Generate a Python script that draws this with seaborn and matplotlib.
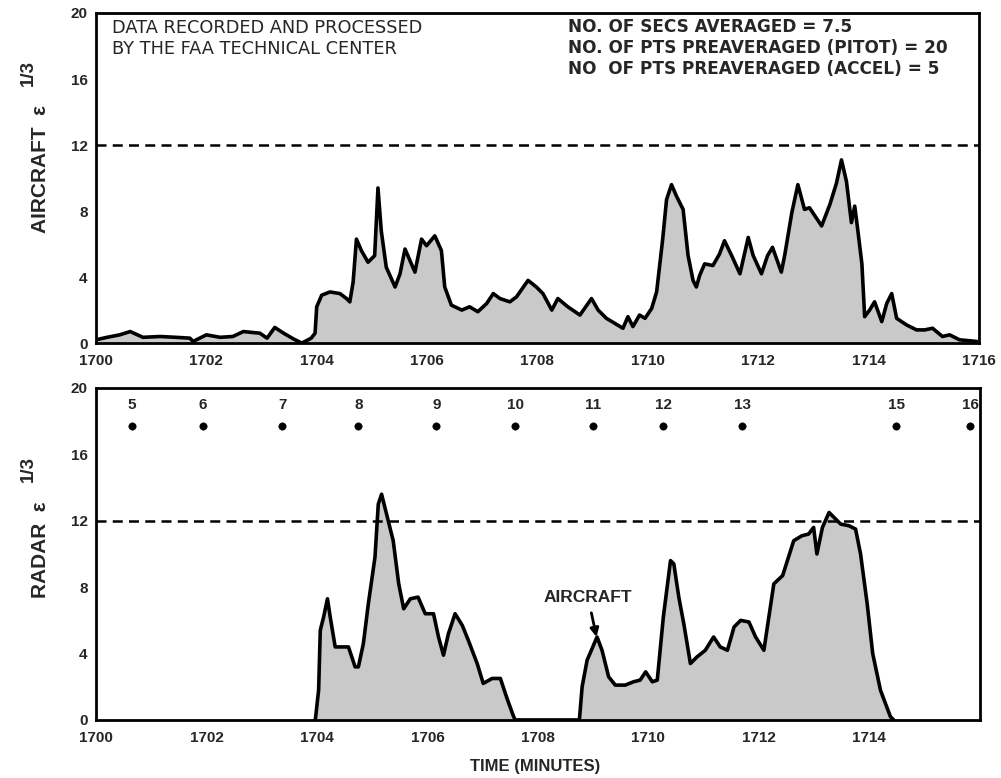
import matplotlib
matplotlib.use("Agg")
import matplotlib.pyplot as plt
import seaborn as sns
import numpy as np

# Aircraft eps^1/3, minutes after 1700
t_aircraft = [0.0, 0.2, 0.43, 0.62, 0.85, 1.16, 1.45, 1.7, 1.76, 2.0, 2.25, 2.48, 2.67, 2.97,
              3.1, 3.24, 3.4, 3.58, 3.73, 3.9, 3.97, 4.0, 4.09, 4.24, 4.42, 4.54, 4.6, 4.66,
              4.72, 4.81, 4.93, 5.05, 5.11, 5.17, 5.26, 5.42, 5.51, 5.6, 5.69, 5.78, 5.9,
              5.99, 6.14, 6.26, 6.32, 6.44, 6.63, 6.77, 6.92, 7.08, 7.2, 7.32, 7.5, 7.62,
              7.83, 7.98, 8.1, 8.26, 8.37, 8.55, 8.77, 8.98, 9.1, 9.25, 9.4, 9.55, 9.64,
              9.73, 9.85, 9.95, 10.07, 10.16, 10.27, 10.34, 10.43, 10.52, 10.64, 10.73,
              10.82, 10.88, 10.94, 11.03, 11.18, 11.3, 11.39, 11.52, 11.67, 11.82, 11.91,
              12.06, 12.17, 12.26, 12.42, 12.48, 12.61, 12.72, 12.84, 12.93, 13.15, 13.3,
              13.42, 13.51, 13.6, 13.69, 13.75, 13.8, 13.88, 13.93, 14.02, 14.11, 14.24,
              14.33, 14.42, 14.51, 14.69, 14.87, 15.02, 15.16, 15.34, 15.47, 15.65, 15.96]
eps_aircraft = [0.2, 0.35, 0.5, 0.7, 0.35, 0.4, 0.35, 0.3, 0.1, 0.5, 0.35, 0.4, 0.7, 0.6,
                0.3, 0.95, 0.6, 0.25, 0.0, 0.3, 0.6, 2.2, 2.9, 3.1, 3.0, 2.7, 2.5, 3.7,
                6.3, 5.6, 4.9, 5.3, 9.4, 6.8, 4.6, 3.4, 4.2, 5.7, 5.0, 4.3, 6.3,
                5.9, 6.5, 5.6, 3.4, 2.3, 2.0, 2.2, 1.9, 2.4, 3.0, 2.7, 2.5, 2.8,
                3.8, 3.4, 3.0, 2.0, 2.7, 2.2, 1.7, 2.7, 2.0, 1.5, 1.2, 0.9, 1.6,
                1.0, 1.7, 1.5, 2.1, 3.1, 6.3, 8.7, 9.6, 8.9, 8.1, 5.3,
                3.8, 3.4, 4.1, 4.8, 4.7, 5.4, 6.2, 5.3, 4.2, 6.4, 5.3,
                4.2, 5.3, 5.8, 4.3, 5.3, 7.9, 9.6, 8.1, 8.2, 7.1, 8.4,
                9.7, 11.1, 9.8, 7.3, 8.3, 7.0, 4.8, 1.6, 2.0, 2.5, 1.3,
                2.4, 3.0, 1.5, 1.1, 0.8, 0.8, 0.9, 0.4, 0.5, 0.2, 0.1]

# Radar eps^1/3
t_radar = [3.97, 4.03, 4.06, 4.12, 4.19, 4.24, 4.33, 4.48, 4.57, 4.69, 4.75, 4.84, 4.93,
           5.05, 5.11, 5.17, 5.26, 5.38, 5.48, 5.57, 5.69, 5.83, 5.96, 6.11, 6.2, 6.29,
           6.38, 6.5, 6.63, 6.74, 6.9, 7.01, 7.17, 7.32, 7.44, 7.56, 7.59, 8.75, 8.8,
           8.89, 9.07, 9.16, 9.28, 9.4, 9.58, 9.73, 9.85, 9.95, 10.07, 10.16, 10.27,
           10.4, 10.46, 10.55, 10.64, 10.76, 10.88, 11.03, 11.18, 11.3, 11.43, 11.55,
           11.67, 11.82, 11.94, 12.09, 12.18, 12.27, 12.43, 12.63, 12.78, 12.9, 12.99,
           13.05, 13.15, 13.27, 13.36, 13.48, 13.63, 13.75, 13.84, 13.96, 14.06, 14.2,
           14.38, 14.44]
eps_radar = [0.0, 1.8, 5.4, 6.2, 7.3, 6.2, 4.4, 4.4, 4.4, 3.2, 3.2, 4.6, 7.0,
             9.8, 13.0, 13.6, 12.4, 10.8, 8.2, 6.7, 7.3, 7.4, 6.4, 6.4, 5.0, 3.9,
             5.2, 6.4, 5.7, 4.8, 3.4, 2.2, 2.5, 2.5, 1.3, 0.2, 0.0, 0.0, 2.0,
             3.6, 5.0, 4.2, 2.6, 2.1, 2.1, 2.3, 2.4, 2.9, 2.3, 2.4, 6.2,
             9.6, 9.4, 7.4, 5.8, 3.4, 3.8, 4.2, 5.0, 4.4, 4.2, 5.6,
             6.0, 5.9, 5.0, 4.2, 6.2, 8.2, 8.7, 10.8, 11.1, 11.2, 11.6,
             10.0, 11.6, 12.5, 12.2, 11.8, 11.7, 11.5, 10.0, 7.0, 4.0, 1.8,
             0.2, 0.0]

# numbered scan markers on radar panel
scan_t = [0.65, 1.94, 3.37, 4.75, 6.16, 7.59, 9.0, 10.27, 11.7, 14.49, 15.83]
scan_labels = ["5", "6", "7", "8", "9", "10", "11", "12", "13", "15", "16"]
scan_level = 17.7

threshold = 12
yticks = [0, 4, 8, 12, 16, 20]
xticks_top = [1700, 1702, 1704, 1706, 1708, 1710, 1712, 1714, 1716]
xticks_bottom = [1700, 1702, 1704, 1706, 1708, 1710, 1712, 1714]

sns.set_style("white")
plt.rcParams['font.family'] = ['Liberation Sans', 'DejaVu Sans']

fig = plt.figure(figsize=(10.01, 7.78), dpi=100)
ax1 = fig.add_axes([0.0959, 0.559, 0.882, 0.4243])
ax2 = fig.add_axes([0.0959, 0.0746, 0.883, 0.4267])

fill_col = "#c9c9c9"


def draw_panel(ax, t, eps, xt, ylabel, ly, exp_y):
    x = 1700 + np.array(t)
    ax.fill_between(x, 0, eps, color=fill_col, lw=0)
    sns.lineplot(x=x, y=eps, ax=ax, color="black", lw=2.6, sort=False, estimator=None)
    ax.axhline(threshold, color="black", ls=(0, (4, 2.5)), lw=1.8)
    ax.set_xlim(1700, 1716)
    ax.set_ylim(0, 20)
    ax.set_yticks(yticks)
    ax.set_yticklabels([str(v) for v in yticks], fontweight="bold", fontsize=11)
    ax.set_xticks(xt)
    ax.set_xticklabels([str(v) for v in xt], fontweight="bold", fontsize=11)
    ax.tick_params(axis="y", direction="in", length=12, width=2, pad=6)
    ax.tick_params(axis="x", direction="in", length=7, width=2, pad=8)
    for s in ax.spines.values():
        s.set_visible(True)
        s.set_color("black")
        s.set_linewidth(2)
    ax.set_ylabel(ylabel, fontsize=15, fontweight="bold")
    ax.yaxis.set_label_coords(-0.052, ly)
    # the 1/3 exponent, raised to the left of the rotated label
    ax.text(-0.077, exp_y, "1/3", transform=ax.transAxes, rotation=90,
            ha="center", va="center", fontsize=13.5, fontweight="bold")
    ax.set_xlabel("")


draw_panel(ax1, t_aircraft, eps_aircraft, xticks_top, "AIRCRAFT  \u03b5", 0.527, 0.818)
draw_panel(ax2, t_radar, eps_radar, xticks_bottom, "RADAR  \u03b5", 0.512, 0.756)

# header texts
ax1.text(0.018, 0.983, "DATA RECORDED AND PROCESSED\nBY THE FAA TECHNICAL CENTER",
         transform=ax1.transAxes, ha="left", va="top", fontsize=12.8, linespacing=1.25,
         family="DejaVu Sans")
ax1.text(0.535, 0.985,
         "NO. OF SECS AVERAGED = 7.5\nNO. OF PTS PREAVERAGED (PITOT) = 20\nNO  OF PTS PREAVERAGED (ACCEL) = 5",
         transform=ax1.transAxes, ha="left", va="top", fontsize=12.2, fontweight="bold",
         linespacing=1.2, family="DejaVu Sans")

# scan dots and numbers
sns.scatterplot(x=1700 + np.array(scan_t), y=[scan_level] * len(scan_t), ax=ax2,
                color="black", s=28, edgecolor="black", legend=False)
for tt, lab in zip(scan_t, scan_labels):
    ax2.text(1700 + tt, 19.0, lab, ha="center", va="center", fontsize=11, fontweight="bold")

ax2.annotate("AIRCRAFT", xy=(1709.06, 5.0), xytext=(1708.91, 7.35),
             ha="center", va="center", fontsize=12.5, fontweight="bold",
             arrowprops=dict(arrowstyle="-|>", color="black", lw=2, shrinkA=3, shrinkB=0))

ax2.set_xlabel("TIME (MINUTES)", fontsize=12, fontweight="bold")
ax2.xaxis.set_label_coords(0.497, -0.118)

fig.savefig("out.png", dpi=100)
